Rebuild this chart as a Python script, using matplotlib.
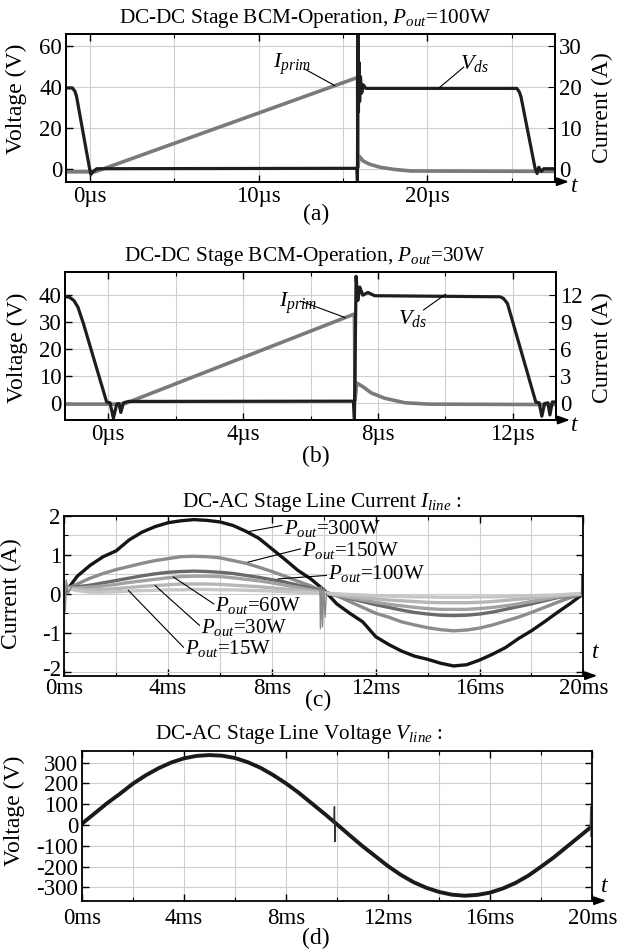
import numpy as np
import matplotlib
matplotlib.use("Agg")
import matplotlib.pyplot as plt
from matplotlib.transforms import ScaledTranslation

plt.rcParams.update({
    "font.family": ["Liberation Serif", "DejaVu Serif"],
    "mathtext.fontset": "custom",
    "mathtext.rm": "Liberation Serif",
    "mathtext.it": "Liberation Serif:italic",
    "axes.unicode_minus": False,
})
FS = 15.3      # titles
TFS = 16.5     # tick labels
LFS = 17       # axis labels
AFS = 15       # annotations

# ---------------- data: panel (a)  P_out = 100 W ----------------
vds_a_t = [-1.44, -1.05, -0.9, -0.8, -0.05, 0.05, 0.2, 0.4, 15.82, 15.85, 15.88, 15.91,
           15.94, 15.98, 16.03, 16.1, 16.2, 16.35, 25.3, 25.45, 25.55, 26.38, 26.5, 26.6,
           26.75, 26.9, 27.56]
vds_a_v = [39.5, 39.5, 38.0, 35.5, 1.5, -2.5, -1.0, 0.3, 0.5, -5.5, 65.5, 28.0,
           52.0, 33.0, 45.0, 37.0, 41.0, 39.3, 39.3, 37.5, 35.0, 0.5, -2.0, 1.0,
           -1.0, 0.3, 0.3]
ip_a_t = [-1.44, 0.3, 15.86, 15.88, 15.95, 16.2, 16.6, 17.2, 18.0, 19.0, 27.56]
ip_a_i = [-0.6, -0.6, 22.3, 0.5, 3.2, 2.0, 1.2, 0.5, 0.0, -0.4, -0.5]
xt_a = [0, 10, 20]
xt_a_lab = ["0µs", "10µs", "20µs"]
yt_a = [0, 20, 40, 60]
yt_a_r = [0, 10, 20, 30]

# ---------------- data: panel (b)  P_out = 30 W ----------------
vds_b_t = [-1.285, -1.15, -1.02, -0.9, -0.74, -0.05, 0.05, 0.15, 0.25, 0.32, 0.37, 0.45,
           0.6, 7.27, 7.3, 7.35, 7.4, 7.46, 7.55, 7.7, 7.9, 11.62, 11.72, 11.84, 12.68,
           12.78, 12.86, 12.94, 13.04, 13.1, 13.17, 13.28]
vds_b_v = [39.5, 39.2, 38.0, 35.5, 29.5, 0.3, 0.0, -5.7, -0.5, -0.3, -3.6, 0.0,
           0.5, 0.6, -6.0, 47.0, 38.0, 43.0, 40.0, 41.0, 39.8, 39.4, 38.8, 36.9, 0.3,
           0.0, -5.0, -0.3, 0.0, -4.5, 0.3, 0.3]
ip_b_t = [-1.285, 0.45, 7.3, 7.32, 7.37, 7.55, 7.8, 8.2, 8.8, 9.5, 13.28]
ip_b_i = [-0.15, -0.15, 9.9, 0.3, 2.2, 1.8, 1.1, 0.5, 0.0, -0.15, -0.2]
xt_b = [0, 4, 8, 12]
xt_b_lab = ["0µs", "4µs", "8µs", "12µs"]
yt_b = [0, 10, 20, 30, 40]
yt_b_r = [0, 3, 6, 9, 12]

# ---------------- data: panel (c)  line current ----------------
t_c = np.arange(0, 20.5, 0.5)
i_300 = [0.0, 0.45, 0.73, 0.95, 1.1, 1.38, 1.58, 1.72, 1.82, 1.87, 1.9, 1.88, 1.84, 1.75,
         1.6, 1.42, 1.15, 0.88, 0.6, 0.38, 0.1, -0.26, -0.5, -0.72, -1.1, -1.3, -1.47,
         -1.6, -1.68, -1.78, -1.85, -1.82, -1.7, -1.55, -1.38, -1.15, -0.95, -0.72,
         -0.48, -0.25, 0.0]
i_150 = [0.1, 0.25, 0.4, 0.52, 0.62, 0.7, 0.78, 0.85, 0.9, 0.95, 0.96, 0.95, 0.92, 0.85,
         0.78, 0.68, 0.57, 0.45, 0.32, 0.2, 0.05, -0.05, -0.2, -0.35, -0.5, -0.6, -0.72,
         -0.8, -0.87, -0.92, -0.95, -0.93, -0.88, -0.8, -0.7, -0.6, -0.48, -0.35, -0.22,
         -0.1, 0.0]
i_100 = [0.15, 0.18, 0.22, 0.28, 0.34, 0.4, 0.46, 0.51, 0.55, 0.57, 0.58, 0.57, 0.55, 0.52,
         0.47, 0.42, 0.36, 0.3, 0.22, 0.14, 0.05, -0.05, -0.12, -0.2, -0.28, -0.35, -0.42,
         -0.48, -0.52, -0.55, -0.56, -0.55, -0.52, -0.47, -0.4, -0.33, -0.26, -0.18, -0.1,
         -0.05, 0.0]
i_60 = [0.15, 0.15, 0.17, 0.2, 0.24, 0.29, 0.33, 0.37, 0.41, 0.44, 0.45, 0.45, 0.44, 0.41,
        0.37, 0.33, 0.28, 0.22, 0.16, 0.1, 0.04, -0.04, -0.1, -0.16, -0.22, -0.27, -0.31,
        -0.35, -0.38, -0.4, -0.4, -0.4, -0.38, -0.35, -0.31, -0.26, -0.2, -0.14, -0.08,
        -0.04, 0.0]
i_30 = [0.15, 0.12, 0.1, 0.11, 0.13, 0.16, 0.19, 0.21, 0.23, 0.25, 0.25, 0.25, 0.24, 0.22,
        0.2, 0.18, 0.15, 0.12, 0.09, 0.06, 0.02, -0.03, -0.07, -0.1, -0.13, -0.16, -0.18,
        -0.2, -0.22, -0.23, -0.23, -0.23, -0.22, -0.2, -0.17, -0.14, -0.11, -0.08, -0.05,
        -0.02, 0.0]
i_15 = [0.15, 0.08, 0.04, 0.04, 0.05, 0.07, 0.08, 0.09, 0.1, 0.1, 0.11, 0.11, 0.1, 0.1,
        0.09, 0.08, 0.07, 0.05, 0.04, 0.03, 0.01, 0.0, -0.02, -0.03, -0.05, -0.06, -0.07,
        -0.08, -0.08, -0.09, -0.09, -0.09, -0.08, -0.08, -0.07, -0.06, -0.05, -0.04, -0.03,
        -0.01, 0.0]
glitch_c_t = [0.0, 0.04, 0.08, 0.15, 0.3]
glitch_c_i = [0.5, -0.45, 0.35, 0.0, 0.2]
spike_c_t = [9.85, 9.87, 9.92, 9.95, 10.0, 10.05, 10.1]
spike_c_i = [0.17, -0.9, 0.2, -0.85, 0.15, -0.6, 0.0]
spike_c2_t = [19.93, 19.95, 19.97, 19.99]
spike_c2_i = [0.0, 0.47, -0.09, 0.0]
series_c = [("300W", i_300, "#151515"), ("150W", i_150, "#8c8c8c"),
            ("100W", i_100, "#6a6a6a"), ("60W", i_60, "#a2a2a2"),
            ("30W", i_30, "#b6b6b6"), ("15W", i_15, "#c6c6c6")]
xt_c = [0, 4, 8, 12, 16, 20]
xt_c_lab = ["0ms", "4ms", "8ms", "12ms", "16ms", "20ms"]
yt_c = [-2, -1, 0, 1, 2]

# ---------------- data: panel (d)  line voltage ----------------
t_d = np.arange(0, 20.5, 0.5)
v_line = [5, 55, 105, 150, 198, 238, 272, 300, 320, 332, 336, 333, 322, 302, 275, 240,
          200, 155, 105, 55, 3, -50, -102, -150, -198, -240, -275, -302, -322, -335,
          -340, -336, -325, -305, -278, -243, -200, -155, -105, -55, -5]
spike_d_t = [9.88, 9.9, 9.92, 9.94]
spike_d_v = [10, 88, -80, 5]
spike_d2_t = [19.92, 19.94, 19.96, 19.98]
spike_d2_v = [-5, 88, -56, 0]
xt_d = [0, 4, 8, 12, 16, 20]
xt_d_lab = ["0ms", "4ms", "8ms", "12ms", "16ms", "20ms"]
yt_d = [-300, -200, -100, 0, 100, 200, 300]

# ---------------- figure ----------------
W, H = 632, 949
fig = plt.figure(figsize=(W / 100, H / 100), dpi=100)


def px_axes(l, t, r, b):
    return fig.add_axes([l / W, 1 - b / H, (r - l) / W, (b - t) / H])


def style(ax, xlim, ylim, xmaj, xlab, xmin, ymaj, ymin, xpad, right=True):
    ax.set_xlim(xlim)
    ax.set_ylim(ylim)
    ax.set_xticks(xmaj)
    ax.set_xticklabels(xlab)
    ax.set_xticks(xmin, minor=True)
    ax.set_yticks(ymaj)
    ax.set_yticks(ymin, minor=True)
    ax.grid(which="both", color="#cfcfcf", lw=0.8)
    ax.set_axisbelow(True)
    ax.tick_params(which="both", direction="in", top=True, right=right, labelsize=TFS)
    ax.tick_params(which="major", length=5, width=1.0)
    ax.tick_params(which="minor", length=3, width=0.8)
    ax.tick_params(axis="x", pad=xpad)
    ax.tick_params(axis="y", pad=2.5)
    for sp in ax.spines.values():
        sp.set_linewidth(1.3)


def t_arrow(ax, width_px, tx, ty):
    ax.annotate("", xy=(1 + 14 / width_px, 0), xycoords="axes fraction",
                xytext=(1, 0), textcoords="axes fraction",
                arrowprops=dict(arrowstyle="-|>,head_length=0.7,head_width=0.25",
                                lw=1.3, color="k", shrinkA=0, shrinkB=0),
                annotation_clip=False)
    fig.text(tx / W, 1 - ty / H, "t", style="italic", fontsize=LFS, ha="center", va="center")


def ftext(x, y, s, size=FS, **kw):
    fig.text(x / W, 1 - y / H, s, ha="center", va="center", fontsize=size, **kw)


# ---- panel (a)
ax = px_axes(65.7, 34, 555, 181.7)
style(ax, (-1.44, 27.56), (-6.0, 65.7), xt_a, xt_a_lab, [5, 15, 25], yt_a, [], 3.0, right=False)
ax2 = ax.twinx()
ax2.set_ylim(-3.0, 32.85)
ax2.set_yticks(yt_a_r)
ax2.tick_params(direction="in", labelsize=TFS, length=5, pad=3.0)
ax2.plot(ip_a_t, ip_a_i, color="#7a7a7a", lw=2.6)
ax2.plot(vds_a_t, vds_a_v, color="#1e1e1e", lw=2.3, transform=ax.transData)
ax2.set_ylim(-3.0, 32.85)
ax2.plot([12.7, 14.5], [48.8, 40.7], color="k", lw=0.8, transform=ax.transData)
ax2.plot([22.15, 20.7], [49.6, 39.6], color="k", lw=0.8, transform=ax.transData)
ax2.text(10.85, 51.2, r"$I_{prim}$", fontsize=AFS + 1, ha="left", va="center", transform=ax.transData)
ax2.text(21.9, 51.6, r"$V_{ds}$", fontsize=AFS + 1, ha="left", va="center", transform=ax.transData)
for sp in ax2.spines.values():
    sp.set_linewidth(1.3)
ax.set_ylabel("Voltage (V)", fontsize=LFS)
ax.yaxis.set_label_coords(-0.079, 0.56)
ax2.set_ylabel("Current (A)", fontsize=LFS)
ax2.yaxis.set_label_coords(1.075, 0.50)
t_arrow(ax, 489.3, 574, 187)
ftext(305.5, 18.3, r"DC-DC Stage BCM-Operation, $P_{out}$=100W")
ftext(316, 214, "(a)", size=LFS)

# ---- panel (b)
ax = px_axes(65, 272.3, 556, 420)
style(ax, (-1.285, 13.28), (-6.4, 48.5), xt_b, xt_b_lab, [2, 6, 10], yt_b, [], 3.0, right=False)
ax2 = ax.twinx()
ax2.set_ylim(-1.92, 14.55)
ax2.set_yticks(yt_b_r)
ax2.tick_params(direction="in", labelsize=TFS, length=5, pad=3.0)
ax2.plot(ip_b_t, ip_b_i, color="#7a7a7a", lw=2.6)
ax2.plot(vds_b_t, vds_b_v, color="#1e1e1e", lw=2.3, transform=ax.transData)
ax2.set_ylim(-1.92, 14.55)
ax2.plot([5.7, 7.02], [37.8, 31.7], color="k", lw=0.8, transform=ax.transData)
ax2.plot([9.35, 10.0], [34.5, 40.3], color="k", lw=0.8, transform=ax.transData)
ax2.text(5.05, 37.0, r"$I_{prim}$", fontsize=AFS + 1, ha="left", va="center", transform=ax.transData)
ax2.text(8.6, 31.4, r"$V_{ds}$", fontsize=AFS + 1, ha="left", va="center", transform=ax.transData)
for sp in ax2.spines.values():
    sp.set_linewidth(1.3)
ax.set_ylabel("Voltage (V)", fontsize=LFS)
ax.yaxis.set_label_coords(-0.075, 0.49)
ax2.set_ylabel("Current (A)", fontsize=LFS)
ax2.yaxis.set_label_coords(1.073, 0.49)
t_arrow(ax, 491, 574, 425)
ftext(304.6, 256.7, r"DC-DC Stage BCM-Operation, $P_{out}$=30W")
ftext(316, 456, "(b)", size=LFS)

# ---- panel (c)
ax = px_axes(64.3, 515.7, 583.3, 675.7)
style(ax, (0, 20), (-2.1, 2.0), xt_c, xt_c_lab, [2, 6, 10, 14, 18], yt_c,
      [-1.5, -0.5, 0.5, 1.5], 2.0)
for name, vals, col in series_c:
    ax.plot(t_c, vals, color=col, lw=2.4)
ax.plot(glitch_c_t, glitch_c_i, color="#888888", lw=1.0)
ax.plot(spike_c_t, spike_c_i, color="#888888", lw=1.0)
ax.plot(spike_c2_t, spike_c2_i, color="#555555", lw=1.0)
labels_c = [("300W", 8.45, 1.67, (8.39, 1.75), (7.0, 1.58)),
            ("150W", 9.15, 1.11, (9.1, 1.15), (7.08, 0.81)),
            ("100W", 10.15, 0.51, (10.1, 0.47), (8.24, 0.38)),
            ("60W", 5.8, -0.30, (5.76, -0.26), (4.2, 0.43)),
            ("30W", 5.25, -0.86, (5.21, -0.81), (3.5, 0.21)),
            ("15W", 4.65, -1.41, (4.59, -1.37), (2.47, 0.085))]
for lab, tx, ty, p0, p1 in labels_c:
    ax.plot([p0[0], p1[0]], [p0[1], p1[1]], color="k", lw=0.8)
    ax.text(tx, ty, r"$P_{out}$=" + lab, fontsize=AFS, ha="left", va="center")
ax.set_ylabel("Current (A)", fontsize=LFS)
ax.yaxis.set_label_coords(-0.082, 0.51)
fig.canvas.draw()
for tl in ax.get_yticklabels():
    if tl.get_text() == "-2":
        tl.set_transform(tl.get_transform() + ScaledTranslation(0, 4 / 100, fig.dpi_scale_trans))
t_arrow(ax, 519, 595, 653)
ftext(321.5, 503, r"DC-AC Stage Line Current $I_{line}$ :")
ftext(318, 700, "(c)", size=LFS)

# ---- panel (d)
ax = px_axes(81.7, 750.7, 592.3, 900.7)
style(ax, (0, 20), (-364, 357), xt_d, xt_d_lab, [2, 6, 10, 14, 18], yt_d, [], 5.0)
ax.plot(t_d, v_line, color="#1a1a1a", lw=2.8)
ax.plot(spike_d_t, spike_d_v, color="#333333", lw=1.0)
ax.plot(spike_d2_t, spike_d2_v, color="#555555", lw=1.0)
ax.set_ylabel("Voltage (V)", fontsize=LFS)
ax.yaxis.set_label_coords(-0.111, 0.60)
t_arrow(ax, 510.6, 604, 886.7)
ftext(299, 735, r"DC-AC Stage Line Voltage $V_{line}$ :")
ftext(316, 938, "(d)", size=LFS)

fig.savefig("out.png", dpi=100)
